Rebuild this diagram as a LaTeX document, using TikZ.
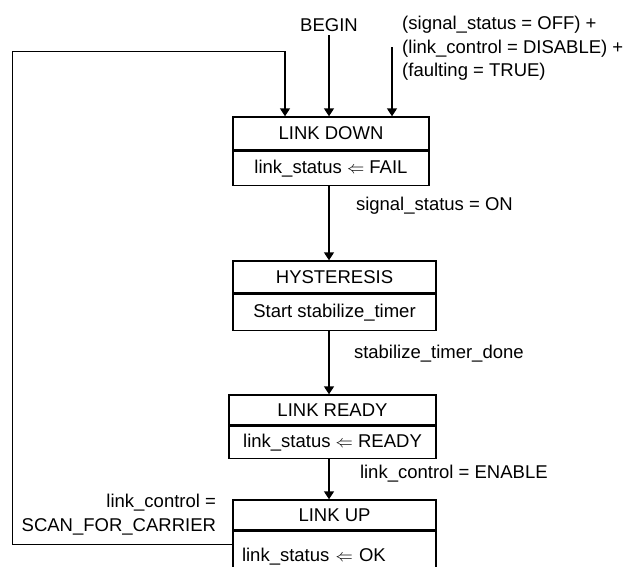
\documentclass[tikz,border=0pt]{standalone}
\usepackage{fontspec}
\setmainfont{Liberation Sans}
\usetikzlibrary{arrows.meta,positioning}
\tikzset{
  font=\fontsize{18.5}{23.5}\selectfont,
  >={Triangle[length=8pt,width=10pt]},
  block/.style={draw,line width=1.4pt,align=center,inner sep=0pt},
  title/.style={block},
  action/.style={block},
  cond/.style={align=left,inner sep=3.33pt},
  flow/.style={->,line width=1.4pt}
}
\begin{document}
\begin{tikzpicture}[x=1pt,y=-1pt]
  \useasboundingbox (0,0) rectangle (627,566);
  \node[title,minimum width=196pt,minimum height=33pt] (down) at (331,133.5) {LINK DOWN};
  \node[action,minimum width=196pt,minimum height=34pt,below=0pt of down] (downact) {link\_status $\Leftarrow$ FAIL};
  \node[title,minimum width=203pt,minimum height=32pt] (hyst) at (334.5,277) {HYSTERESIS};
  \node[action,minimum width=203pt,minimum height=36pt,below=0pt of hyst] (hystact) {Start stabilize\_timer};
  \node[title,minimum width=207pt,minimum height=30pt] (ready) at (332.5,410) {LINK READY};
  \node[action,minimum width=207pt,minimum height=32pt,below=0pt of ready] (readyact) {link\_status $\Leftarrow$ READY};
  \node[title,minimum width=203pt,minimum height=30pt] (up) at (334.5,515) {LINK UP};
  \node[action,minimum width=203pt,minimum height=50pt,text width=185pt,align=left,inner xsep=9pt,below=0pt of up] (upact) {link\_status $\Leftarrow$ OK};

  \node[cond] (begin) at (329,25) {BEGIN};
  \node[cond,anchor=west] (fault) at (398.7,48.5) {(signal\_status = OFF) +\\(link\_control = DISABLE) +\\(faulting = TRUE)};
  \coordinate (faultin) at (392,47);
  \node[cond,align=right,anchor=east] (scan) at (219.5,514.5) {link\_control =\\SCAN\_FOR\_CARRIER};

  % entries into LINK DOWN
  \draw[flow] (begin.south) -- (begin.south |- down.north);
  \draw[flow] (faultin) -- (faultin |- down.north);
  \draw[flow] ([yshift=12pt]upact.west) -- ++(-220,0) -- ++(0,-493) -| ([xshift=-46pt]down.north);
  % chain of states
  \draw[flow] (downact.south -| begin) -- node[cond,pos=.27,right=23pt]{signal\_status = ON} (hyst.north -| begin);
  \draw[flow] (hystact.south -| begin) -- node[cond,pos=.36,right=21pt]{stabilize\_timer\_done} (ready.north -| begin);
  \draw[flow] (readyact.south -| begin) -- node[cond,pos=.37,right=27pt]{link\_control = ENABLE} (up.north -| begin);
\end{tikzpicture}
\end{document}
